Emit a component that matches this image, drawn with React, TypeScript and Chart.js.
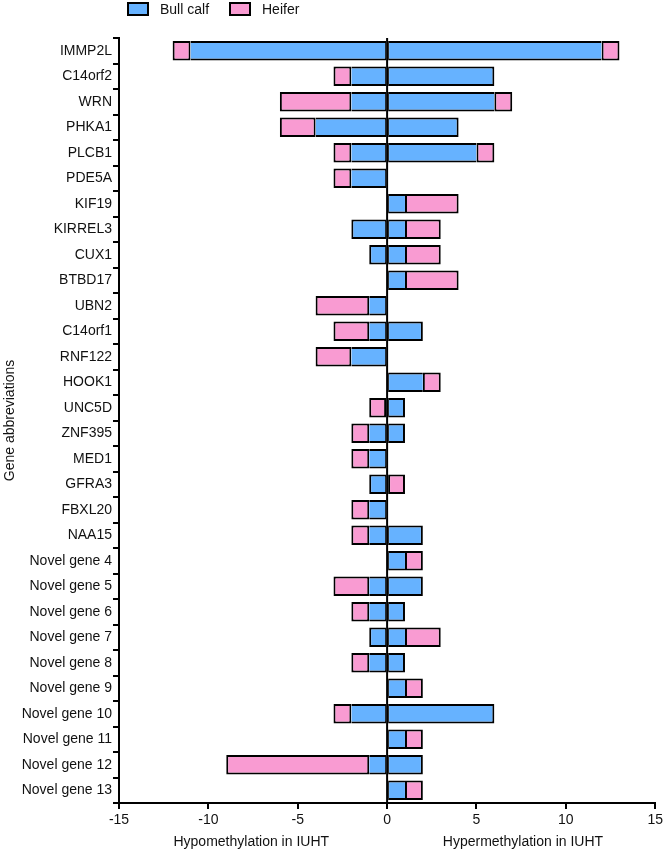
import React, { useEffect, useRef } from "react";
import { Chart, registerables } from "chart.js";

Chart.register(...registerables);

const genes = [
  "IMMP2L", "C14orf2", "WRN", "PHKA1", "PLCB1", "PDE5A", "KIF19", "KIRREL3", "CUX1", "BTBD17",
  "UBN2", "C14orf1", "RNF122", "HOOK1", "UNC5D", "ZNF395", "MED1", "GFRA3", "FBXL20", "NAA15",
  "Novel gene 4", "Novel gene 5", "Novel gene 6", "Novel gene 7", "Novel gene 8", "Novel gene 9",
  "Novel gene 10", "Novel gene 11", "Novel gene 12", "Novel gene 13",
];

const bullHypo = [-11, -2, -2, -4, -2, -2, 0, -2, -1, 0, -1, -1, -2, 0, 0, -1, -1, -1, -1, -1, 0, -1, -1, -1, -1, 0, -2, 0, -1, 0];
const heiferHypo = [-1, -1, -4, -2, -1, -1, 0, 0, 0, 0, -3, -2, -2, 0, -1, -1, -1, 0, -1, -1, 0, -2, -1, 0, -1, 0, -1, 0, -8, 0];
const bullHyper = [12, 6, 6, 4, 5, 0, 1, 1, 1, 1, 0, 2, 0, 2, 1, 1, 0, 0, 0, 2, 1, 2, 1, 1, 1, 1, 6, 1, 2, 1];
const heiferHyper = [1, 0, 1, 0, 1, 0, 3, 2, 2, 3, 0, 0, 0, 1, 0, 0, 0, 1, 0, 0, 1, 0, 0, 2, 0, 1, 0, 1, 0, 1];

const xTickMin = -15;
const xTickMax = 15;
const xTickStep = 5;

const seriesNames = ["Bull calf", "Heifer"];
const xTitles = ["Hypomethylation in IUHT", "Hypermethylation in IUHT"];
const yTitle = "Gene abbreviations";

const BLUE = "rgb(102,178,255)";
const PINK = "rgb(249,155,210)";
const FONT = "'Liberation Sans', Arial, sans-serif";
const TEXT = "#111";

const nz = (a: number[]) => a.map((v) => (v === 0 ? null : v));

// shared edges: the outer (heifer) segment carries the 2px border, inner bull segment none
const borderFor = (ctx: any) => {
  const i = ctx.dataIndex;
  const d = ctx.datasetIndex;
  if (d === 0) return { top: 2, bottom: 2, right: 1, left: heiferHypo[i] !== 0 ? 0 : 2 };
  if (d === 1) return { top: 2, bottom: 2, left: 2, right: 2 };
  if (d === 2) return { top: 2, bottom: 2, left: 1, right: heiferHyper[i] !== 0 ? 0 : 2 };
  return { top: 2, bottom: 2, right: 2, left: 2 };
};

const overlayPlugin = {
  id: "overlay",
  afterDatasetsDraw(chart: any) {
    const { ctx, chartArea, scales } = chart;
    const x0 = scales.x.getPixelForValue(0);
    ctx.save();
    ctx.strokeStyle = "#000";
    ctx.lineWidth = 2;
    ctx.beginPath();
    ctx.moveTo(x0, chartArea.top);
    ctx.lineTo(x0, chartArea.bottom);
    ctx.stroke();

    // x-axis side titles
    ctx.fillStyle = TEXT;
    ctx.font = `14px ${FONT}`;
    ctx.textAlign = "center";
    ctx.textBaseline = "middle";
    ctx.fillText(xTitles[0], scales.x.getPixelForValue(-7.6), 842);
    ctx.fillText(xTitles[1], scales.x.getPixelForValue(7.6), 842);

    // legend
    const colors = [BLUE, PINK];
    const boxX = [128, 230];
    ctx.textAlign = "left";
    for (let i = 0; i < 2; i++) {
      ctx.fillStyle = colors[i];
      ctx.fillRect(boxX[i], 3, 20, 12);
      ctx.strokeStyle = "#000";
      ctx.lineWidth = 2;
      ctx.strokeRect(boxX[i], 3, 20, 12);
      ctx.fillStyle = TEXT;
      ctx.fillText(seriesNames[i], boxX[i] + 32, 10);
    }
    ctx.restore();
  },
};

export default function App() {
  const ref = useRef<HTMLCanvasElement | null>(null);
  useEffect(() => {
    document.body.style.margin = "0";
    if (!ref.current) return;
    const common = {
      borderColor: "#000",
      borderWidth: borderFor,
      borderSkipped: false,
      barPercentage: 0.76,
      categoryPercentage: 1,
    };
    const chart = new Chart(ref.current, {
      type: "bar",
      data: {
        labels: genes,
        datasets: [
          { label: seriesNames[0], data: nz(bullHypo), backgroundColor: BLUE, stack: "s", ...common },
          { label: seriesNames[1], data: nz(heiferHypo), backgroundColor: PINK, stack: "s", ...common },
          { label: seriesNames[0], data: nz(bullHyper), backgroundColor: BLUE, stack: "s", ...common },
          { label: seriesNames[1], data: nz(heiferHyper), backgroundColor: PINK, stack: "s", ...common },
        ] as any,
      },
      options: {
        indexAxis: "y",
        responsive: false,
        animation: false,
        devicePixelRatio: 1,
        layout: { padding: { top: 38, right: 10, left: 0, bottom: 0 } },
        plugins: { legend: { display: false }, tooltip: { enabled: false } },
        scales: {
          x: {
            type: "linear",
            stacked: true,
            min: xTickMin,
            max: xTickMax,
            ticks: { stepSize: xTickStep, color: TEXT, font: { size: 14, family: FONT }, padding: 3 },
            grid: { drawOnChartArea: false, drawTicks: true, tickLength: 6, color: "#000", lineWidth: 2 },
            border: { display: true, color: "#000", width: 2 },
            afterFit: (s: any) => { s.height = 53; },
          },
          y: {
            type: "category",
            stacked: true,
            ticks: { color: TEXT, font: { size: 14, family: FONT }, padding: 1, autoSkip: false },
            grid: { drawOnChartArea: false, drawTicks: true, tickLength: 6, color: "#000", lineWidth: 2 },
            border: { display: true, color: "#000", width: 2 },
            title: { display: true, text: yTitle, color: TEXT, font: { size: 14, family: FONT }, padding: { top: 2, bottom: 0 } },
            afterFit: (s: any) => { s.width = 119; },
          },
        },
      } as any,
      plugins: [overlayPlugin],
    });
    return () => chart.destroy();
  }, []);
  return (
    <div style={{ width: 666, height: 856 }}>
      <canvas ref={ref} width={666} height={856} />
    </div>
  );
}
